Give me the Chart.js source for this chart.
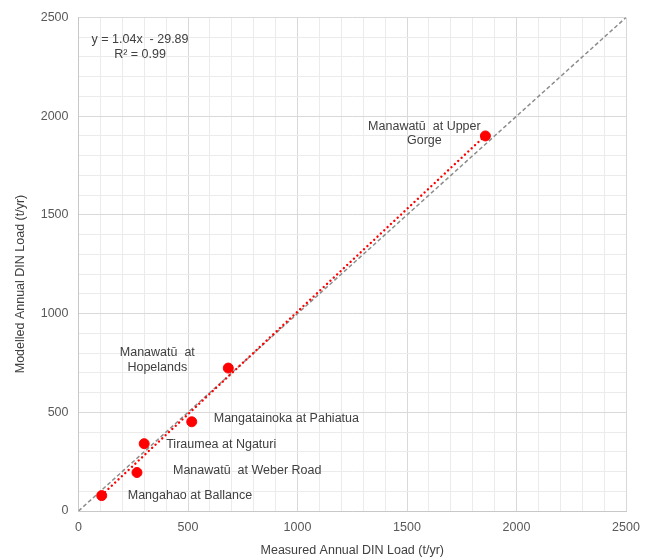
<!DOCTYPE html>
<html>
<head>
<meta charset="utf-8">
<script src="https://cdn.jsdelivr.net/npm/chart.js@4"></script>
<style>
  html, body { margin: 0; padding: 0; background: #ffffff; }
  #wrap { width: 657px; height: 560px; position: relative; }
</style>
</head>
<body>
<div id="wrap"><canvas id="c" width="657" height="560"></canvas></div>
<script>
// Annual DIN load per monitoring site (t/yr)
const sites = [
  ['Mangahao at Ballance'],
  ['Manawatū  at Weber Road'],
  ['Tiraumea at Ngaturi'],
  ['Mangatainoka at Pahiatua'],
  ['Manawatū  at', 'Hopelands'],
  ['Manawatū  at Upper', 'Gorge']
];
const measured = [106, 267, 300, 517, 684, 1858];
const modelled = [78, 195, 341, 452, 724, 1900];

// Linear fit reported for modelled vs measured
const fitSlope = 1.04;
const fitIntercept = -29.89;
const fitR2 = 0.99;

const axisMin = 0;
const axisMax = 2500;
const axisMajor = 500;
const axisMinor = 100;

const xTitle = 'Measured Annual DIN Load (t/yr)';
const yTitle = 'Modelled Annual DIN Load (t/yr)';

const FONT = { family: 'Liberation Sans, Arial, sans-serif', size: 12.5 };

// Label placement relative to each point (pixels)
const labelPlacement = [
  { dx: 26, dy: 0, align: 'left' },
  { dx: 36, dy: -2, align: 'left' },
  { dx: 22, dy: 1, align: 'left' },
  { dx: 22, dy: -3, align: 'left' },
  { dx: -71, dy: -15.5, align: 'center' },
  { dx: -61, dy: -9.5, align: 'center' }
];

const points = measured.map((x, i) => ({ x, y: modelled[i] }));
const xLo = Math.min(...measured), xHi = Math.max(...measured);
const trend = [xLo, xHi].map(x => ({ x, y: fitSlope * x + fitIntercept }));
const identity = [{ x: axisMin, y: axisMin }, { x: axisMax, y: axisMax }];

const annotate = {
  id: 'annotate',
  afterDatasetsDraw(chart) {
    const { ctx, scales: { x, y } } = chart;
    ctx.save();
    ctx.font = `${FONT.size}px ${FONT.family}`;
    ctx.fillStyle = '#404040';
    ctx.textBaseline = 'middle';
    const lh = 14.5;
    sites.forEach((lines, i) => {
      const p = labelPlacement[i];
      const px = x.getPixelForValue(measured[i]) + p.dx;
      const py = y.getPixelForValue(modelled[i]) + p.dy;
      ctx.textAlign = p.align;
      lines.forEach((t, k) => ctx.fillText(t, px, py + k * lh));
    });
    // fit equation
    const ex = x.getPixelForValue(281), ey = y.getPixelForValue(2386);
    ctx.textAlign = 'center';
    const sign = fitIntercept < 0 ? '-' : '+';
    ctx.fillText(`y = ${fitSlope.toFixed(2)}x  ${sign} ${Math.abs(fitIntercept).toFixed(2)}`, ex, ey);
    ctx.fillText(`R² = ${fitR2.toFixed(2)}`, ex, ey + lh);
    // vertical axis title, sitting a little below the plot's midline
    ctx.translate(21, 284);
    ctx.rotate(-Math.PI / 2);
    ctx.fillText(yTitle, 0, 0);
    ctx.restore();
  }
};

function gridColor(c) {
  return c.tick && c.tick.value % axisMajor === 0 ? '#d9d9d9' : '#ebebeb';
}
function tickText(v) {
  return v % axisMajor === 0 ? String(v) : '';
}

new Chart(document.getElementById('c'), {
  type: 'scatter',
  data: {
    datasets: [
      {
        label: 'Sites',
        data: points,
        backgroundColor: '#ff0000',
        borderColor: '#ff0000',
        pointRadius: 5,
        pointHoverRadius: 5,
        order: 0
      },
      {
        type: 'line',
        label: 'Linear fit',
        data: trend,
        borderColor: '#ff0000',
        borderWidth: 2.4,
        borderCapStyle: 'round',
        borderDash: [0.01, 4.6],
        pointRadius: 0,
        fill: false,
        order: 1
      },
      {
        type: 'line',
        label: '1:1',
        data: identity,
        borderColor: '#8c8c8c',
        borderWidth: 1.5,
        borderDash: [4, 2.5],
        pointRadius: 0,
        fill: false,
        order: 2
      }
    ]
  },
  options: {
    responsive: false,
    animation: false,
    layout: { padding: { top: 15, right: 31, left: 0, bottom: 0 } },
    plugins: {
      legend: { display: false },
      tooltip: { enabled: false }
    },
    scales: {
      x: {
        type: 'linear',
        min: axisMin,
        max: axisMax,
        afterFit(s) { s.height = 49; },
        ticks: {
          stepSize: axisMinor,
          autoSkip: false,
          maxRotation: 0,
          padding: 9,
          color: '#595959',
          font: FONT,
          callback: tickText
        },
        grid: { color: gridColor, lineWidth: 1, drawTicks: false },
        border: { display: true, color: '#c8c8c8' },
        title: {
          display: true,
          text: xTitle,
          color: '#404040',
          font: FONT,
          padding: { top: 0, bottom: 2 }
        }
      },
      y: {
        type: 'linear',
        min: axisMin,
        max: axisMax,
        afterFit(s) { s.width = 78.5; },
        ticks: {
          stepSize: axisMinor,
          autoSkip: false,
          padding: 10,
          color: '#595959',
          font: FONT,
          callback: tickText
        },
        grid: { color: gridColor, lineWidth: 1, drawTicks: false },
        border: { display: true, color: '#c8c8c8' },
        title: { display: false }
      }
    }
  },
  plugins: [annotate]
});
</script>
</body>
</html>
